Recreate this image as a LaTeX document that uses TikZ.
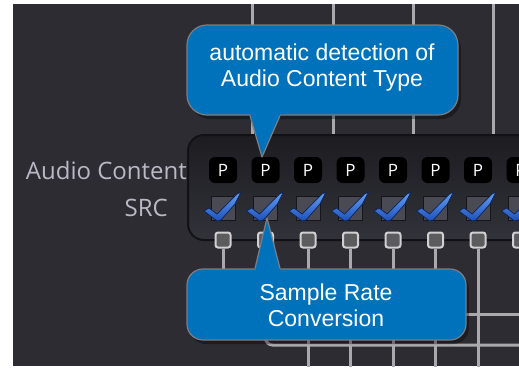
\documentclass[tikz,border=0pt]{standalone}
\usepackage{fontspec}
\setmainfont{Liberation Sans}
\newfontfamily\osans{Open Sans}
\usetikzlibrary{calc}
\definecolor{bg}{RGB}{45,44,50}
\definecolor{wirecol}{RGB}{170,170,172}
\definecolor{panelbd}{RGB}{18,18,22}
\definecolor{paneltop}{RGB}{28,28,33}
\definecolor{panelbot}{RGB}{50,50,58}
\definecolor{lblcol}{RGB}{185,185,198}
\definecolor{cbfill}{RGB}{74,74,84}
\definecolor{cbbd}{RGB}{22,22,26}
\definecolor{chkhi}{RGB}{100,160,245}
\definecolor{chklo}{RGB}{30,80,185}
\definecolor{chkbd}{RGB}{12,35,85}
\definecolor{sqfill}{RGB}{92,92,95}
\definecolor{sqbd}{RGB}{208,208,210}
\definecolor{callblue}{RGB}{0,114,188}
\definecolor{callbd}{RGB}{125,125,130}
\tikzset{
  wire/.style={draw=wirecol, line width=3pt},
  panel/.style={draw=panelbd, line width=2pt, top color=paneltop, bottom color=panelbot},
  pbox/.style={fill=black, rounded corners=6pt, minimum width=28pt, minimum height=26pt, inner sep=0pt, text=white, font=\osans\fontsize{17}{17}\selectfont},
  cbox/.style={fill=cbfill, draw=cbbd, line width=1pt, minimum size=24pt, inner sep=0pt},
  chk/.style={top color=chkhi, bottom color=chklo, draw=chkbd, line width=0.7pt, line join=round},
  sqbox/.style={fill=sqfill, draw=sqbd, line width=2pt, rounded corners=2.5pt, minimum size=15pt, inner sep=0pt},
  lbl/.style={text=lblcol, font=\osans\fontsize{24}{24}\selectfont, inner sep=0pt},
  callbox/.style={fill=callblue, draw=callbd, line width=1.2pt},
  callfill/.style={fill=callblue},
  callshadow/.style={fill=black, opacity=0.35},
  calltext/.style={text=white, align=center, font=\fontsize{23}{26}\selectfont, inner sep=0pt}
}
\begin{document}
\begin{tikzpicture}[x=1pt,y=-1pt]
\useasboundingbox (0,0) rectangle (519,367);
\fill[white] (0,0) rectangle (519,367);
\begin{scope}
\clip (13,4) rectangle (519,366);
\fill[bg] (13,4) rectangle (519,366);
% top wires
\foreach \x in {252,333,413,493} \draw[wire] (\x,0) -- (\x,140);
% panel
\draw[panel, rounded corners=16pt] (188,135) rectangle (570,240);
% columns
\foreach \i in {0,...,7} {
  \pgfmathsetmacro\cx{223+42.5*\i}
  \node[pbox] (p\i) at (\cx,170) {P};
  \node[cbox] (c\i) at (\cx,208) {};
  \begin{scope}[shift={(c\i.center)}]
    \draw[chk] (-19,3) -- (-14,0) -- (-6,6) -- (14,-14) -- (18,-16) -- (12,-4) -- (-2,12) -- (-6,13) -- cycle;
  \end{scope}
  \node[sqbox] (s\i) at (\cx,240) {};
}
% wires below panel
\coordinate (b0) at (s0 |- 0,270);
\draw[wire] (s0.south) -- (b0);
\coordinate (r1) at (560,345);
\draw[wire, rounded corners=7pt] (s1.south) |- (r1);
\foreach \i in {2,...,6} {
  \coordinate (e\i) at (s\i |- 0,370);
  \draw[wire] (s\i.south) -- (e\i);
}
\coordinate (h0) at (440,314);
\coordinate (h1) at (560,314);
\draw[wire] (h0) -- (h1);
% labels
\node[lbl, anchor=east] (lac) at (187,170) {Audio Content};
\node[lbl, anchor=east] (lsrc) at (168,208) {SRC};
% top callout
\fill[callshadow, rounded corners=20pt] (190,29) rectangle (461,119);
\draw[callbox, rounded corners=20pt] (187,25) rectangle (458,115);
\fill[callfill] (250,115) -- (262,157) -- (280,115) -- cycle;
\fill[callfill] (250.5,110) rectangle (279.5,116.5);
\draw[callbd, line width=1.2pt, line join=round] (250,115.6) -- (262,157) -- (280,115.6);
\node[calltext] (t1) at (322,68) {automatic detection of\\Audio Content Type};
% bottom callout
\fill[callshadow, rounded corners=16pt] (190,273) rectangle (469,344);
\draw[callbox, rounded corners=16pt] (187,269) rectangle (466,340);
\fill[callfill] (255,269) -- (267,218) -- (280,269) -- cycle;
\fill[callfill] (255.5,268.4) rectangle (279.5,274);
\draw[callbd, line width=1.2pt, line join=round] (255,268.4) -- (267,218) -- (280,268.4);
\node[calltext] (t2) at (326,305) {Sample Rate\\Conversion};
\end{scope}
\end{tikzpicture}
\end{document}
